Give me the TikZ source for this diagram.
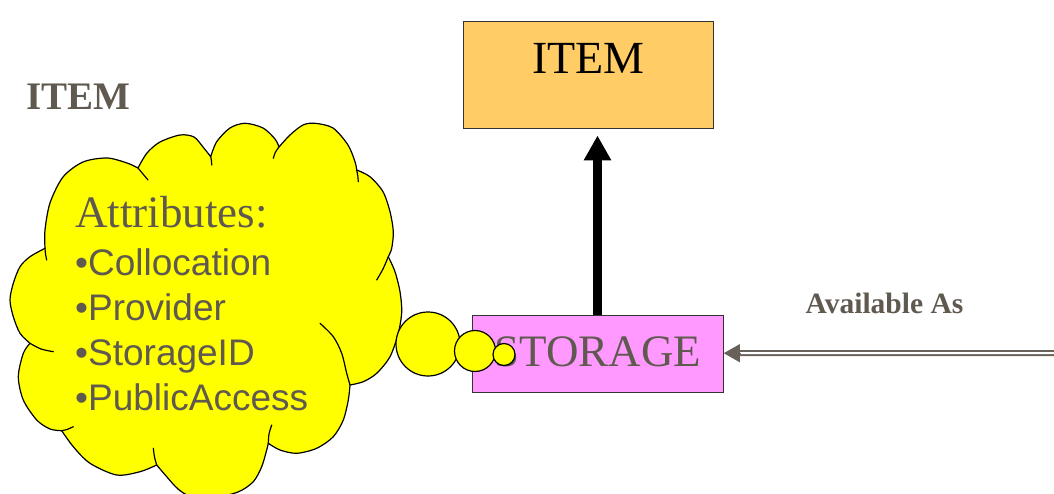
\documentclass[tikz,border=0pt]{standalone}
\usepackage{fontspec}
\setmainfont{Liberation Serif}
\newfontfamily\arialf{Liberation Sans}
\usetikzlibrary{arrows.meta}
\definecolor{txtgray}{HTML}{5F5950}
\definecolor{linegray}{HTML}{67615A}
\definecolor{itemfill}{HTML}{FFCC66}
\definecolor{storefill}{HTML}{FF99FF}
\definecolor{cloudfill}{HTML}{FFFF00}
\definecolor{boxedge}{HTML}{333333}
\begin{document}
\begin{tikzpicture}[x=1pt,y=-1pt,
  cloudline/.style={draw=black, line width=1.2pt, line join=round, line cap=round},
  stub/.style={draw=black, line width=1.2pt, line cap=round},
  entity/.style={draw=boxedge, line width=1pt, inner xsep=0pt, inner ysep=0pt},
  bubble/.style={circle, draw=black, line width=1.2pt, fill=cloudfill, inner sep=0pt},
  dblline/.style={draw=linegray, line width=2pt, double=white, double distance=2pt},
  tiphead/.style={draw=linegray, fill=linegray, line width=1pt, -{Triangle[length=16pt,width=18pt]}},
  gen/.style={line width=8.5pt, -{Triangle[length=25pt,width=26pt]}}
]
\useasboundingbox (0,0) rectangle (1054,494);

% thought cloud
\filldraw[cloudline, fill=cloudfill]
  plot[smooth] coordinates {(45,248.3) (45,230) (50,203) (63,177) (83,162) (107,158) (127,163) (138,168)}
  -- plot[smooth] coordinates {(138,168) (147,153) (160,142) (180,135) (194,137) (203,147) (210.7,156.7)}
  -- plot[smooth] coordinates {(210.7,156.7) (216.7,141.7) (230,128) (245,123.3) (263,128) (275,139) (279,147)}
  -- plot[smooth] coordinates {(279,147) (290,135) (303,125) (315,123.3) (333,128) (348,145) (355,161.7) (356.7,170)}
  -- plot[smooth] coordinates {(356.7,170) (370,176.7) (383,191.7) (390,211.7) (393.3,231.7) (391.7,248.3) (388.3,256.7)}
  -- plot[smooth] coordinates {(388.3,256.7) (395,271.7) (400,291.7) (401.7,312) (398.3,333.3) (390,356.7) (376.7,373.3) (363.3,381.7) (350,385)}
  -- plot[smooth] coordinates {(350,385) (348.3,400) (343.3,420) (333.3,436.7) (316.7,448.3) (296.7,453.3) (280,450) (268.3,443.3)}
  -- plot[smooth] coordinates {(268.3,443.3) (266.7,450) (261.7,466.7) (253.3,481.7) (238,492) (212,498) (190,496) (178,489) (166.7,476.7) (156.7,465)}
  -- plot[smooth] coordinates {(156.7,465) (140,471.7) (116.7,475) (90,463.3) (73.3,446.7) (61.7,430.7)}
  -- plot[smooth] coordinates {(61.7,430.7) (50,429) (36.7,420) (23.3,400) (18.3,376.7) (23.3,353.3) (30,343.3)}
  -- plot[smooth] coordinates {(30,343.3) (20,333.3) (13.3,316.7) (10,300) (13.3,283.3) (20,266.7) (30,256.7) (45,248.3)}
  -- cycle;

% inner arc ends of the cloud bumps
\draw[stub] plot[smooth] coordinates {(45,248.3) (45.5,254) (46.7,260)};
\draw[stub] plot[smooth] coordinates {(138,168) (143,174) (148,180)};
\draw[stub] plot[smooth] coordinates {(210.7,156.7) (211.5,161) (211.7,165)};
\draw[stub] plot[smooth] coordinates {(273.3,158.3) (275.5,152) (279,147)};
\draw[stub] plot[smooth] coordinates {(356.7,170) (357.8,176) (358.3,181.7)};
\draw[stub] plot[smooth] coordinates {(388.3,256.7) (383,269) (376.7,280)};
\draw[stub] plot[smooth] coordinates {(320,323.3) (333.3,336.7) (341.7,353.3) (346.7,373.3) (350,385)};
\draw[stub] plot[smooth] coordinates {(268.3,443.3) (269,434) (271.7,425)};
\draw[stub] plot[smooth] coordinates {(153.3,448.3) (154.5,457) (156.7,465)};
\draw[stub] plot[smooth] coordinates {(61.7,430.7) (67,429.5) (73.3,426.7)};
\draw[stub] plot[smooth] coordinates {(30,343.3) (41,349) (53.3,351.7)};

% attribute list inside the cloud (anchored on the baseline of its last line)
\node[anchor=base west, inner sep=0pt, align=left, text=txtgray,
      font=\arialf\fontsize{37}{44.7}\selectfont] (attrs) at (75,410)
  {{\rmfamily\fontsize{45}{44.7}\selectfont Attributes:}\\[3.7pt]
   •Collocation\\ •Provider\\ •StorageID\\ •PublicAccess};

% entities
\node[entity, fill=itemfill, minimum width=250pt, text height=51.6pt, text depth=55.7pt,
      anchor=base, font=\fontsize{46}{46}\selectfont] (item) at (588.3,73.3) {ITEM};
\node[entity, fill=storefill, minimum width=250.6pt, text height=51pt, text depth=26pt,
      anchor=base, text=txtgray, font=\fontsize{45}{45}\selectfont] (storage) at (598,366.7) {STORAGE};

% trailing bubbles of the cloud
\node[bubble, minimum size=64pt] (bub1) at (428,344) {};
\node[bubble, minimum size=41pt] (bub2) at (475,351) {};
\node[bubble, minimum size=22pt] (bub3) at (504,354.5) {};

% generalisation arrow
\draw[gen] (storage.north -| 597.5,0) -- ([yshift=-6pt]item.south -| 597.5,0);

% labels
\node[anchor=base west, inner sep=0pt, text=txtgray, font=\bfseries\fontsize{39}{39}\selectfont]
  (title) at (26,109.3) {ITEM};
\node[anchor=base, inner sep=0pt, text=txtgray, font=\bfseries\fontsize{29.5}{29.5}\selectfont]
  (avail) at (884.5,313.3) {Available As};

% "available as" association
\coordinate (src) at (1060,353);
\draw[dblline] (src) -- ([xshift=14pt,yshift=1pt]storage.east);
\draw[tiphead] ([xshift=16pt,yshift=1pt]storage.east) -- ([yshift=1pt]storage.east);
\end{tikzpicture}
\end{document}
